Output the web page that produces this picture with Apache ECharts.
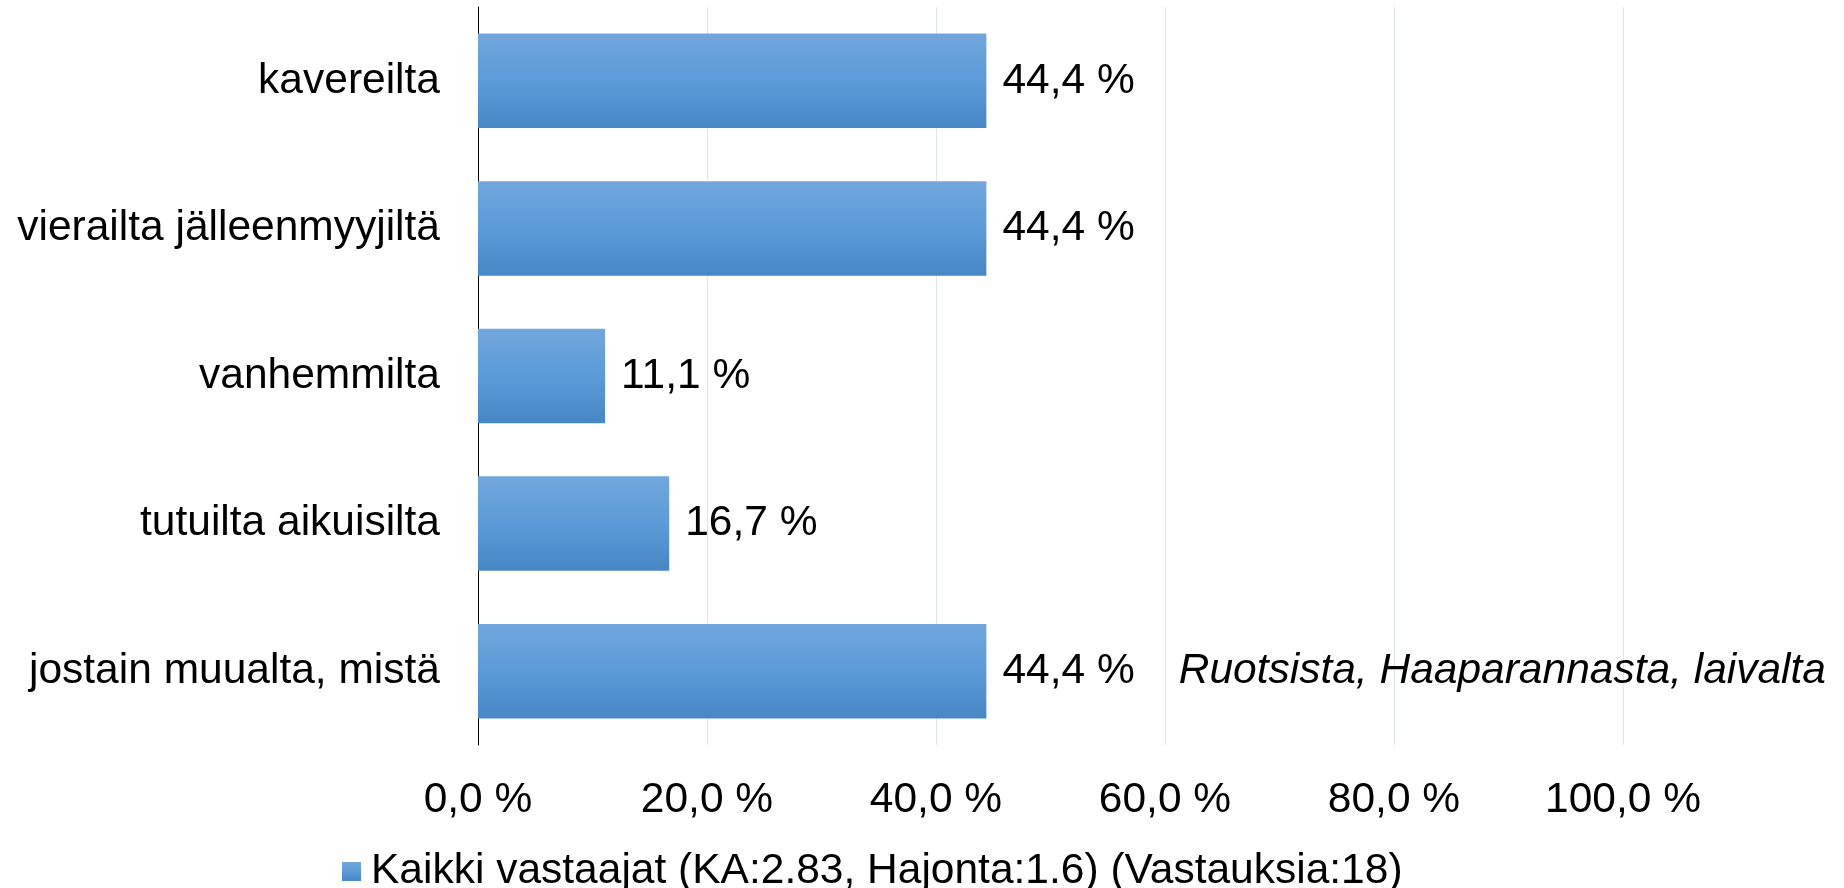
<!DOCTYPE html>
<html>
<head>
<meta charset="utf-8">
<script src="https://cdn.jsdelivr.net/npm/echarts@6/dist/echarts.min.js"></script>
<style>
html,body{margin:0;padding:0;background:#fff;}
#chart{width:1844px;height:888px;}
</style>
</head>
<body>
<div id="chart"></div>
<script>
var categories = ['kavereilta', 'vierailta jälleenmyyjiltä', 'vanhemmilta', 'tutuilta aikuisilta', 'jostain muualta, mistä'];
var values = [44.4, 44.4, 11.1, 16.7, 44.4];
var otherAnswers = ['', '', '', '', 'Ruotsista, Haaparannasta, laivalta'];
var tickValues = [0, 20, 40, 60, 80, 100];
var tickLabels = ['0,0 %', '20,0 %', '40,0 %', '60,0 %', '80,0 %', '100,0 %'];
var seriesName = 'Kaikki vastaajat (KA:2.83, Hajonta:1.6) (Vastauksia:18)';

var FONT = 'Liberation Sans, Arial, sans-serif';
var FS = 42.5;
var chart = echarts.init(document.getElementById('chart'));
var barColor = new echarts.graphic.LinearGradient(0, 0, 0, 1, [
  {offset: 0, color: '#72a7dd'},
  {offset: 0.5, color: '#5b9bd8'},
  {offset: 1, color: '#4787c6'}
]);
chart.setOption({
  animation: false,
  backgroundColor: '#ffffff',
  grid: {left: 478, right: 221, top: 7, bottom: 143, containLabel: false},
  legend: {
    left: 337, top: 845,
    itemWidth: 19, itemHeight: 19, itemGap: 10,
    icon: 'rect',
    textStyle: {fontFamily: FONT, fontSize: FS, color: '#000', padding: [0, 0, 0, 5]},
    data: [seriesName]
  },
  xAxis: {
    type: 'value', min: 0, max: 100, interval: 20,
    axisLine: {show: false}, axisTick: {show: false},
    splitLine: {show: true, lineStyle: {color: '#dfe4ef', width: 1}},
    axisLabel: {
      margin: 34, fontFamily: FONT, fontSize: FS, color: '#000',
      formatter: function (v) { var i = tickValues.indexOf(v); return i >= 0 ? tickLabels[i] : ''; }
    }
  },
  yAxis: {
    type: 'category', data: categories, inverse: true,
    axisLine: {show: true, lineStyle: {color: '#000', width: 1}},
    axisTick: {show: false},
    axisLabel: {margin: 38, fontFamily: FONT, fontSize: FS, color: '#000'}
  },
  series: [{
    name: seriesName,
    type: 'bar',
    data: values,
    barCategoryGap: '36%',
    itemStyle: {color: barColor},
    label: {
      show: true, position: 'right', distance: 16,
      fontFamily: FONT, fontSize: FS, color: '#000',
      formatter: function (p) {
        var s = '{v|' + p.value.toFixed(1).replace('.', ',') + ' %}';
        var o = otherAnswers[p.dataIndex];
        if (o) s += '{o|' + o + '}';
        return s;
      },
      rich: {
        v: {fontFamily: FONT, fontSize: FS, color: '#000'},
        o: {fontFamily: FONT, fontSize: FS, fontStyle: 'italic', color: '#000', padding: [0, 0, 0, 44], verticalAlign: 'middle'}
      }
    }
  }]
});
</script>
</body>
</html>
